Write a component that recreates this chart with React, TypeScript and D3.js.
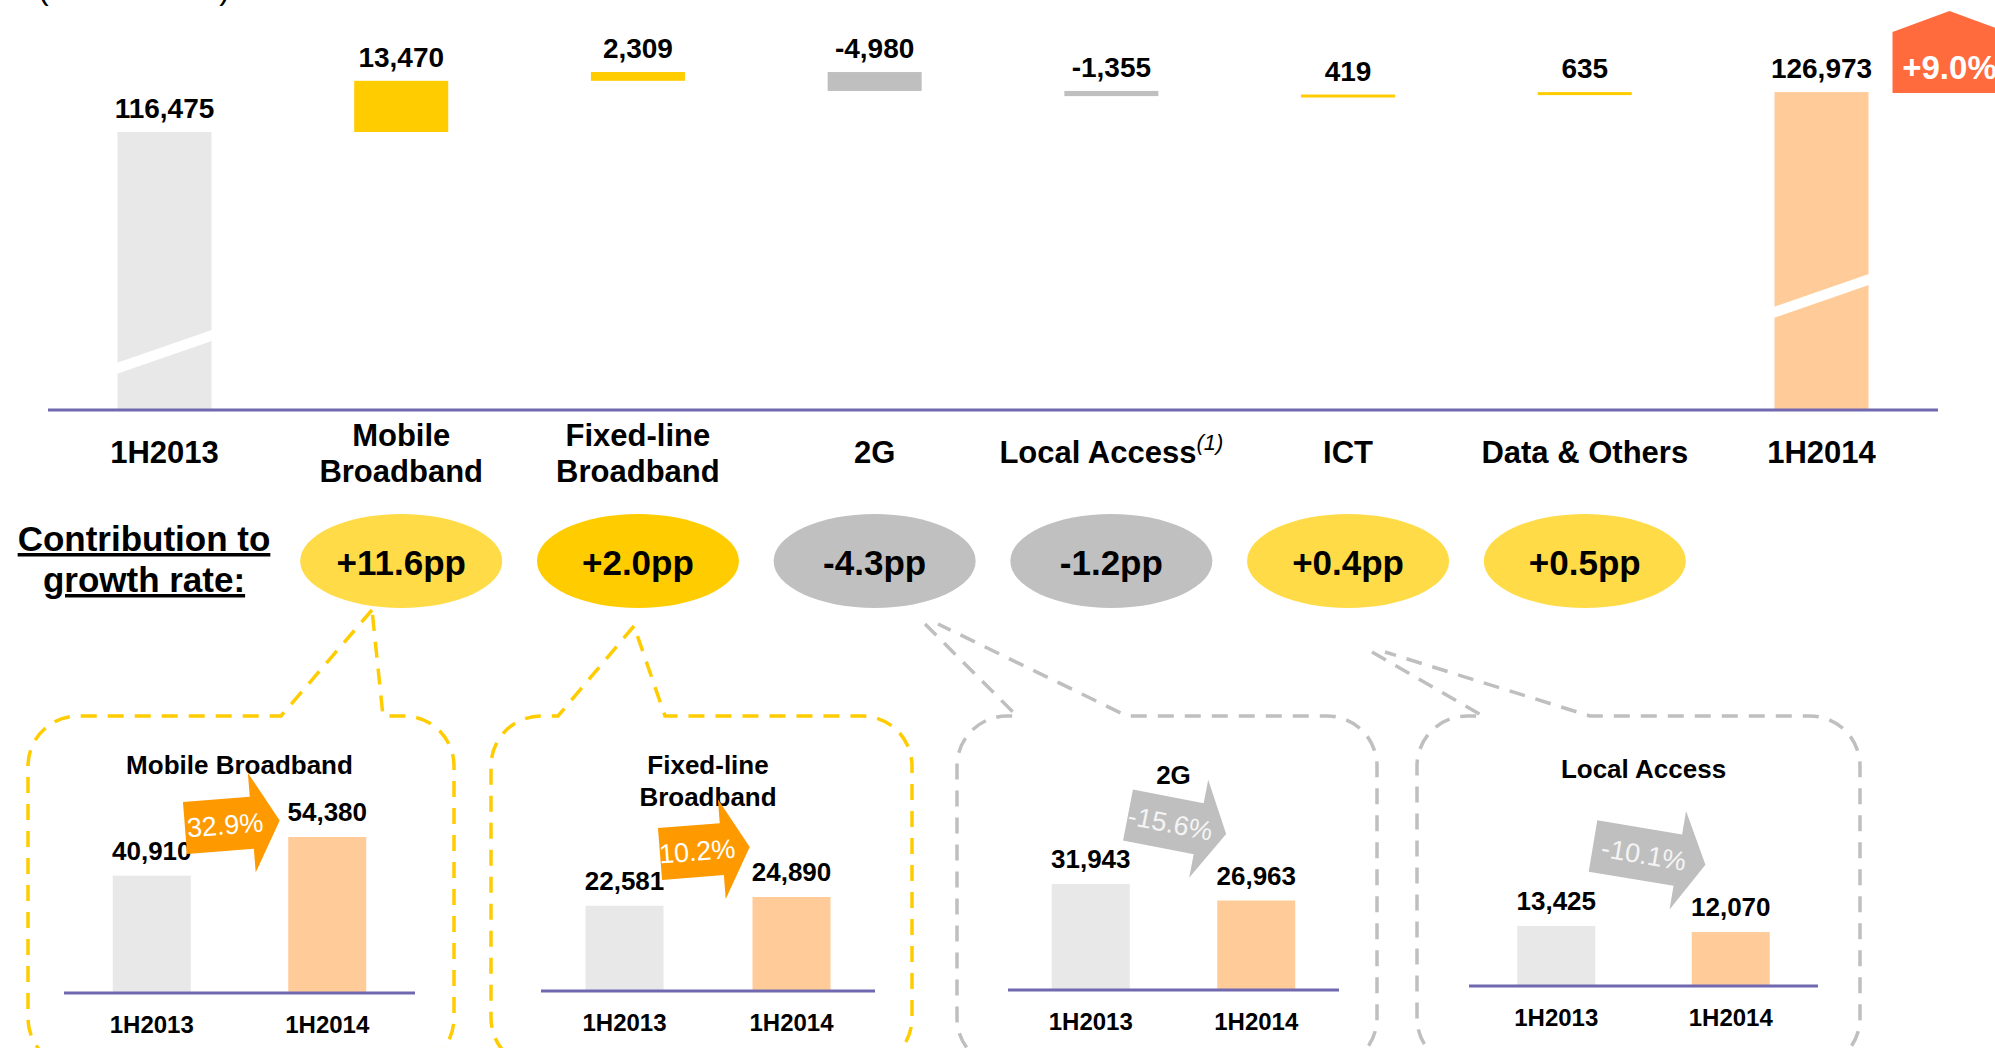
import React from "react";
import * as d3 from "d3";

// ---------- data ----------
const unitLabel = "(RMB million)";
const categories = ["1H2013", "Mobile Broadband", "Fixed-line Broadband", "2G", "Local Access", "ICT", "Data & Others", "1H2014"];
const categoryLines = [["1H2013"], ["Mobile", "Broadband"], ["Fixed-line", "Broadband"], ["2G"], ["Local Access"], ["ICT"], ["Data & Others"], ["1H2014"]];
const revenueValues = [116475, 13470, 2309, -4980, -1355, 419, 635, 126973];
const barColors = ["#E8E8E8", "#FFCC00", "#FFCC00", "#BFBFBF", "#BFBFBF", "#FFCC00", "#FFCC00", "#FFCC99"];
const totalGrowth = "+9.0%";
const contributionLabels = ["+11.6pp", "+2.0pp", "-4.3pp", "-1.2pp", "+0.4pp", "+0.5pp"];
const contributionColors = ["#FFDB47", "#FFCC00", "#C0C0C0", "#C0C0C0", "#FFDB47", "#FFDB47"];
const panelTitles = [["Mobile Broadband"], ["Fixed-line", "Broadband"], ["2G"], ["Local Access"]];
const periods = ["1H2013", "1H2014"];
const panelPrev = [40910, 22581, 31943, 13425];
const panelCurr = [54380, 24890, 26963, 12070];
const panelGrowth = ["32.9%", "10.2%", "-15.6%", "-10.1%"];

// ---------- layout / style ----------
const W = 1995;
const H = 1048;
const FONT = "'Liberation Sans', Arial, sans-serif";
const AXIS = "#7068B0";
const BASE_Y = 410;
const BAR_W = 94;
const fmt = (v: number) => d3.format(",")(v).replace("\u2212", "-");

const x = d3.scalePoint<string>().domain(categories).range([164.5, 1821.5]);
const y = d3.scaleLinear().domain([110000, 135000]).range([156.6, 61.6]);
const breakY = [363, 307];

const panels = [
  { x0: 28, x1: 454, gapL: 281, gapR: 383, ax: [372, 610], bx: [372, 610], chartL: 64, chartR: 415, baseY: 993, hMax: 156, titleY: 774, dash: "#FFCC00", arrow: { cx: 185, cy: 828, rot: -4.5, len: 67 } },
  { x0: 491, x1: 912, gapL: 558, gapR: 665, ax: [634, 626], bx: [634, 626], chartL: 541, chartR: 875, baseY: 991, hMax: 94, titleY: 774, dash: "#FFCC00", arrow: { cx: 660, cy: 854, rot: -4.5, len: 62 } },
  { x0: 957, x1: 1377, gapL: 1017, gapR: 1127, ax: [925, 624], bx: [938, 624], chartL: 1008, chartR: 1339, baseY: 990, hMax: 106, titleY: 784, dash: "#BFBFBF", arrow: { cx: 1128, cy: 815, rot: 11, len: 72 } },
  { x0: 1417, x1: 1860, gapL: 1483, gapR: 1590, ax: [1372, 652], bx: [1385, 652], chartL: 1469, chartR: 1818, baseY: 986, hMax: 60, titleY: 778, dash: "#BFBFBF", arrow: { cx: 1593, cy: 846, rot: 9.5, len: 86 } },
];

function panelPath(p: any) {
  const r = 50, y0 = 716, y1 = 1068;
  const { x0, x1, gapL, gapR, ax, bx } = p;
  const path = d3.path();
  path.moveTo(ax[0], ax[1]);
  path.lineTo(gapL, y0);
  path.lineTo(x0 + r, y0);
  path.arcTo(x0, y0, x0, y0 + r, r);
  path.lineTo(x0, y1 - r);
  path.arcTo(x0, y1, x0 + r, y1, r);
  path.lineTo(x1 - r, y1);
  path.arcTo(x1, y1, x1, y1 - r, r);
  path.lineTo(x1, y0 + r);
  path.arcTo(x1, y0, x1 - r, y0, r);
  path.lineTo(gapR, y0);
  path.lineTo(bx[0], bx[1]);
  return path.toString();
}

function arrowPath(len: number) {
  const bh = 26, hh = 50, hl = 28;
  return `M0,${-bh}L${len},${-bh}L${len},${-hh}L${len + hl},0L${len},${hh}L${len},${bh}L0,${bh}Z`;
}

export default function App() {
  // waterfall
  let running = 0;
  const bars = revenueValues.map((v, i) => {
    const isTotal = i === 0 || i === revenueValues.length - 1;
    let top: number, bottom: number;
    if (isTotal) {
      top = y(v);
      bottom = BASE_Y;
      running = v;
    } else {
      const start = running;
      const end = running + v;
      top = y(Math.max(start, end));
      bottom = y(Math.min(start, end));
      if (bottom - top < 3) bottom = top + 3;
      running = end;
    }
    return { cat: categories[i], v, top, bottom, isTotal, color: barColors[i] };
  });

  const lastX = x(categories[categories.length - 1])!;
  const badgeCx = lastX + 128;

  return (
    <svg width={W} height={H} style={{ position: "absolute", left: 0, top: 0, background: "#fff" }} fontFamily={FONT}>
      <rect width={W} height={H} fill="#fff" />
      <text x={38} y={-1} fontSize={32} fill="#000">{unitLabel}</text>

      {/* waterfall bars */}
      {bars.map((b) => (
        <g key={b.cat}>
          <rect x={x(b.cat)! - BAR_W / 2} y={b.top} width={BAR_W} height={b.bottom - b.top} fill={b.color} />
          <text x={x(b.cat)!} y={b.top - 14} textAnchor="middle" fontSize={28} fontWeight="bold" fill="#000">{fmt(b.v)}</text>
        </g>
      ))}
      {/* axis breaks */}
      {[0, categories.length - 1].map((ci, k) => {
        const cx = x(categories[ci])!;
        const l = cx - BAR_W / 2 - 1, r = cx + BAR_W / 2 + 1, yl = breakY[k];
        const s = (33 * (r - l)) / 95;
        return <polygon key={ci} points={`${l},${yl} ${r},${yl - s} ${r},${yl - s + 11} ${l},${yl + 11}`} fill="#fff" />;
      })}
      <line x1={48} x2={1938} y1={BASE_Y} y2={BASE_Y} stroke={AXIS} strokeWidth={3} />

      {/* growth badge */}
      <polygon points={`${badgeCx - 57},93 ${badgeCx - 57},32 ${badgeCx},11 ${badgeCx + 57},32 ${badgeCx + 57},93`} fill="#FF6B3D" />
      <text x={badgeCx} y={79} textAnchor="middle" fontSize={33} fontWeight="bold" fill="#fff">{totalGrowth}</text>

      {/* category labels */}
      {categoryLines.map((lines, i) => {
        const cx = x(categories[i])!;
        if (categories[i] === "Local Access") {
          return (
            <text key={i} x={cx} y={463} textAnchor="middle" fontSize={31} fontWeight="bold" fill="#000">
              {lines[0]}
              <tspan dy={-13} fontSize={22} fontWeight="normal" fontStyle="italic">(1)</tspan>
            </text>
          );
        }
        return lines.length === 1 ? (
          <text key={i} x={cx} y={463} textAnchor="middle" fontSize={31} fontWeight="bold" fill="#000">{lines[0]}</text>
        ) : (
          <text key={i} x={cx} textAnchor="middle" fontSize={31} fontWeight="bold" fill="#000">
            <tspan x={cx} y={446}>{lines[0]}</tspan>
            <tspan x={cx} y={482}>{lines[1]}</tspan>
          </text>
        );
      })}

      {/* contribution row */}
      <text x={144} textAnchor="middle" fontSize={35} fontWeight="bold" fill="#000" textDecoration="underline">
        <tspan x={144} y={551}>Contribution to</tspan>
        <tspan x={144} y={592}>growth rate:</tspan>
      </text>
      {contributionLabels.map((lab, i) => {
        const cx = x(categories[i + 1])!;
        return (
          <g key={lab}>
            <ellipse cx={cx} cy={561} rx={101} ry={47} fill={contributionColors[i]} />
            <text x={cx} y={575} textAnchor="middle" fontSize={35} fontWeight="bold" fill="#000">{lab}</text>
          </g>
        );
      })}

      {/* detail panels */}
      {panels.map((p, i) => {
        const xs = d3.scalePoint<string>().domain(periods).range([p.chartL, p.chartR]).padding(0.5);
        const hs = d3.scaleLinear().domain([0, Math.max(panelPrev[i], panelCurr[i])]).range([p.baseY, p.baseY - p.hMax]);
        const vals = [panelPrev[i], panelCurr[i]];
        const mid = (p.chartL + p.chartR) / 2;
        const a = p.arrow;
        const up = panelCurr[i] >= panelPrev[i];
        return (
          <g key={i}>
            <path d={panelPath(p)} fill="none" stroke={p.dash} strokeWidth={3.5} strokeDasharray="16 11" />
            {periods.map((per, j) => (
              <g key={per}>
                <rect x={xs(per)! - 39} y={hs(vals[j])} width={78} height={p.baseY - hs(vals[j])} fill={j === 0 ? "#E8E8E8" : "#FFCC99"} />
                <text x={xs(per)!} y={hs(vals[j]) - 16} textAnchor="middle" fontSize={26} fontWeight="bold" fill="#000">{fmt(vals[j])}</text>
                <text x={xs(per)!} y={p.baseY + 40} textAnchor="middle" fontSize={24} fontWeight="bold" fill="#000">{per}</text>
              </g>
            ))}
            <line x1={p.chartL} x2={p.chartR} y1={p.baseY} y2={p.baseY} stroke={AXIS} strokeWidth={3} />
            <text x={mid} textAnchor="middle" fontSize={26} fontWeight="bold" fill="#000">
              {panelTitles[i].map((t, k) => (
                <tspan key={k} x={mid} y={p.titleY + k * 32}>{t}</tspan>
              ))}
            </text>
            <g transform={`translate(${a.cx},${a.cy}) rotate(${a.rot})`}>
              <path d={arrowPath(a.len)} fill={up ? "#FF9900" : "#BFBFBF"} />
              <text x={a.len * 0.6} y={9.5} textAnchor="middle" fontSize={27} fill={up ? "#FFFFFF" : "#F4F4F4"}>{panelGrowth[i]}</text>
            </g>
          </g>
        );
      })}
    </svg>
  );
}
